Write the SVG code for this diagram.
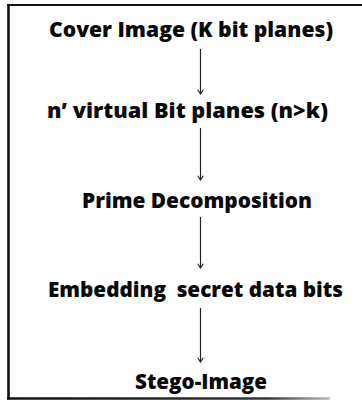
<svg xmlns="http://www.w3.org/2000/svg" width="362" height="405" viewBox="0 0 362 405">
  <style>
    .lbl { font-family: "Open Sans", "Liberation Sans", sans-serif; font-weight: 800; font-size: 21.5px; fill: #0a0a0a; }
    .edge { stroke: #222; stroke-width: 1.2; fill: none; }
    .frame { stroke: #111; fill: none; }
  </style>
  <defs>
    <marker id="head" viewBox="0 0 10 10" refX="9" refY="5" markerWidth="7" markerHeight="7" markerUnits="userSpaceOnUse" orient="auto">
      <path d="M3,1 L9,5 L3,9" fill="none" stroke="#222" stroke-width="1.6"/>
    </marker>
    <linearGradient id="fade" gradientUnits="userSpaceOnUse" x1="7" y1="0" x2="330" y2="0">
      <stop offset="0" stop-color="#111"/>
      <stop offset="0.8" stop-color="#333"/>
      <stop offset="1" stop-color="#bbb"/>
    </linearGradient>
  </defs>
  <rect width="362" height="405" fill="#fff"/>

  <!-- outer frame -->
  <g id="frame">
    <line class="frame" x1="8.5" y1="4" x2="8.5" y2="399.5" stroke-width="2.6"/>
    <line class="frame" x1="7" y1="5" x2="362" y2="5" stroke-width="2.2"/>
    <line x1="7" y1="398.5" x2="330" y2="398.5" stroke="url(#fade)" stroke-width="2.4"/>
  </g>

  <g id="cover">
    <text class="lbl" x="49" y="37" textLength="284" lengthAdjust="spacingAndGlyphs">Cover Image (K bit planes)</text>
  </g>
  <g id="virtual">
    <text class="lbl" x="47" y="118" textLength="281" lengthAdjust="spacingAndGlyphs">n’ virtual Bit planes (n&gt;k)</text>
  </g>
  <g id="prime">
    <text class="lbl" x="82" y="208" textLength="230" lengthAdjust="spacingAndGlyphs">Prime Decomposition</text>
  </g>
  <g id="embed">
    <text class="lbl" x="48" y="297" textLength="295" lengthAdjust="spacingAndGlyphs" xml:space="preserve">Embedding  secret data bits</text>
  </g>
  <g id="stego">
    <text class="lbl" x="135" y="389" textLength="132" lengthAdjust="spacingAndGlyphs">Stego-Image</text>
  </g>

  <g id="connectors">
    <line class="edge" x1="200.5" y1="49" x2="200.5" y2="94" marker-end="url(#head)"/>
    <line class="edge" x1="200.5" y1="128" x2="200.5" y2="180" marker-end="url(#head)"/>
    <line class="edge" x1="200.5" y1="217" x2="200.5" y2="268" marker-end="url(#head)"/>
    <line class="edge" x1="200.5" y1="308" x2="200.5" y2="362" marker-end="url(#head)"/>
  </g>
</svg>
